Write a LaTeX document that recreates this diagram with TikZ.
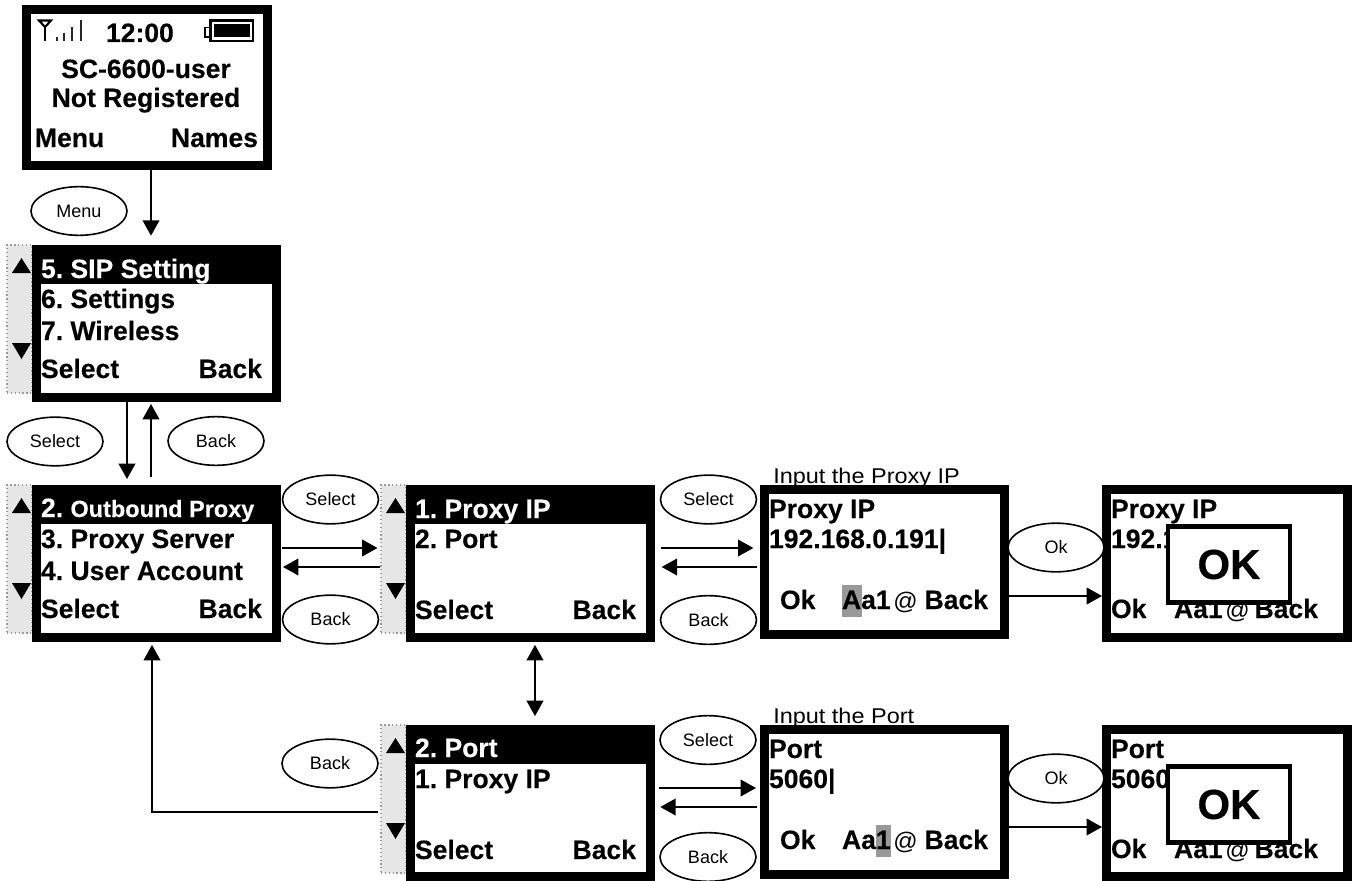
\documentclass[tikz,border=0pt]{standalone}
\usepackage{fontspec}
\setmainfont[BoldFeatures={FakeBold=0.25}]{Liberation Sans}
\newfontfamily\widefont[FakeStretch=1.1]{Liberation Sans}
\usetikzlibrary{arrows.meta,shapes.geometric}
\definecolor{bargray}{HTML}{E6E6E6}
\definecolor{hilite}{HTML}{999999}
\newcommand{\Scr}[5]{\node[scr, minimum width={(#4-#2-9)*0.75pt}, minimum height={(#5-#3-9)*0.75pt}] (#1) at ({(#2+#4)/2},{(#3+#5)/2}) {};}
\newcommand{\Hdr}[3]{\fill[black] (#1,#3) rectangle (#2,{#3+39});}
\newcommand{\ScrollBar}[3]{%
  \node[barbox] (#1) at ({#2+12.5},{#3+74}) {};
  \fill[black] ({#2+5},{#3+28}) -- ({#2+24},{#3+28}) -- ({#2+14.5},{#3+13}) -- cycle;
  \fill[black] ({#2+5},{#3+98}) -- ({#2+24},{#3+98}) -- ({#2+14.5},{#3+114}) -- cycle;}
\newcommand{\Oval}[4]{\node[oval] (#1) at (#2,#3) {#4};}
\frenchspacing
\begin{document}
\begin{tikzpicture}[x=0.75pt,y=-0.75pt,
  scr/.style={draw=black,fill=white,line width=6.75pt,inner sep=0pt},
  popbox/.style={draw=black,fill=white,line width=3.4pt,inner sep=0pt,minimum width=91.5pt,minimum height=57pt,
     font=\fontsize{31.5pt}{36pt}\selectfont\bfseries},
  barbox/.style={draw=gray!80,dotted,fill=bargray,line width=0.9pt,minimum width=18.75pt,minimum height=111pt,inner sep=0pt},
  oval/.style={ellipse,draw=black,fill=white,line width=1.2pt,minimum width=72pt,minimum height=36.5pt,inner sep=0pt,
     font=\fontsize{13.5pt}{16pt}\selectfont},
  txt/.style={anchor=base west,inner sep=0pt,outer sep=0pt,font=\fontsize{19.9pt}{24pt}\selectfont\bfseries},
  inv/.style={txt,text=white},
  note/.style={anchor=base west,inner sep=0pt,font=\fontsize{16pt}{18pt}\selectfont\widefont},
  atsign/.style={anchor=base west,inner sep=0pt,font=\fontsize{18pt}{20pt}\selectfont},
  arr/.style={line width=1.2pt,-{Triangle[length=11.5pt,width=12.5pt]}},
  darr/.style={line width=1.2pt,{Triangle[length=11.5pt,width=12.5pt]}-{Triangle[length=11.5pt,width=12.5pt]}}]
\useasboundingbox (0,0) rectangle (1354,881);
\fill[white] (0,0) rectangle (1354,881);

% screen 1
\Scr{s1}{22}{5}{272}{170}
\draw[line width=1.6pt,black] (39,20.5) -- (45,27) -- (51,20.5) -- cycle;
\draw[line width=1.7pt,black] (45,26) -- (45,41);
\draw[line width=1.2pt,black!85] (57,41) -- (57,37) (64,41) -- (64,33) (72,41) -- (72,27) (81,41) -- (81,20);
\draw[black,line width=1pt] (205,27.5) rectangle (210,37);
\draw[black,line width=1.9pt] (210.5,20.5) rectangle (253,41);
\fill[black] (214,24) rectangle (249.5,37.5);
\node[txt] (t1a) at (106,42) {12:00};
\node[txt,anchor=base] (t1b) at (146,78) {SC-6600-user};
\node[txt,anchor=base] (t1c) at (146,107) {Not Registered};
\node[txt] (t1d) at (35,147) {Menu};
\node[txt,anchor=base east] (t1e) at (258,147) {Names};

% screen 2
\ScrollBar{b2}{7}{245}
\Scr{s2}{32}{245}{281}{402}
\Hdr{41}{272}{245}
\node[inv] (t2a) at (41,278) {5. SIP Setting};
\node[txt] (t2b) at (41,308) {6. Settings};
\node[txt] (t2c) at (41,340) {7. Wireless};
\node[txt] (t2d) at (41,378) {Select};
\node[txt,anchor=base east] (t2e) at (262,378) {Back};

% screen 3
\ScrollBar{b3}{7}{485}
\Scr{s3}{32}{485}{281}{642}
\Hdr{41}{272}{485}
\node[inv] (t3a) at (41,517) {2. {\fontsize{17.6pt}{20pt}\selectfont Outbound Proxy}};
\node[txt] (t3b) at (41,548) {3. Proxy Server};
\node[txt] (t3c) at (41,580) {4. User Account};
\node[txt] (t3d) at (41,618) {Select};
\node[txt,anchor=base east] (t3e) at (262,618) {Back};

% screen 4
\ScrollBar{b4}{381}{485}
\Scr{s4}{406}{485}{655}{642}
\Hdr{415}{646}{485}
\node[inv] (t4a) at (415,518) {1. Proxy IP};
\node[txt] (t4b) at (415,548) {2. Port};
\node[txt] (t4d) at (415,619) {Select};
\node[txt,anchor=base east] (t4e) at (636,619) {Back};

% screen 5
\ScrollBar{b5}{381}{725}
\Scr{s5}{406}{725}{655}{881}
\Hdr{415}{646}{725}
\node[inv] (t5a) at (415,757) {2. Port};
\node[txt] (t5b) at (415,788) {1. Proxy IP};
\node[txt] (t5d) at (415,859) {Select};
\node[txt,anchor=base east] (t5e) at (636,859) {Back};

% input proxy
\node[note] (n1) at (773,483) {Input the Proxy IP};
\Scr{s6}{760}{485}{1009}{639}
\node[txt] (t6a) at (769,518) {Proxy IP};
\node[txt] (t6b) at (769,548) {192.168.0.191|};
\fill[hilite] (842,585) rectangle (862,617);
\node[txt] (t6c) at (780,609) {Ok};
\node[txt] (t6d) at (842,609) {Aa1};
\node[atsign] (t6e) at (893,609) {@};
\node[txt,anchor=base east] (t6f) at (988,609) {Back};

% ok proxy
\Scr{s7}{1102}{485}{1352}{642}
\node[txt] (t7a) at (1111,518) {Proxy IP};
\node[txt] (t7b) at (1111,548) {192.168.0.191};
\node[txt] (t7c) at (1111,618) {Ok};
\node[txt] (t7d) at (1174,618) {Aa1};
\node[atsign] (t7e) at (1225,618) {@};
\node[txt,anchor=base east] (t7f) at (1318,618) {Back};
\node[popbox] (p1) at (1229,564.5) {OK};

% input port
\node[note] (n2) at (773,723) {Input the Port};
\Scr{s8}{760}{725}{1009}{879}
\node[txt] (t8a) at (769,758) {Port};
\node[txt] (t8b) at (769,788) {5060|};
\fill[hilite] (876,825) rectangle (891,857);
\node[txt] (t8c) at (780,849) {Ok};
\node[txt] (t8d) at (842,849) {Aa1};
\node[atsign] (t8e) at (893,849) {@};
\node[txt,anchor=base east] (t8f) at (988,849) {Back};

% ok port
\Scr{s9}{1102}{725}{1352}{881}
\node[txt] (t9a) at (1111,758) {Port};
\node[txt] (t9b) at (1111,788) {5060};
\node[txt] (t9c) at (1111,858) {Ok};
\node[txt] (t9d) at (1174,858) {Aa1};
\node[atsign] (t9e) at (1225,858) {@};
\node[txt,anchor=base east] (t9f) at (1318,858) {Back};
\node[popbox] (p2) at (1229,804.5) {OK};

% ovals
\Oval{o1}{79}{211}{Menu}
\Oval{o2}{55}{441.5}{Select}
\Oval{o3}{216}{441}{Back}
\Oval{o4}{330.5}{499.5}{Select}
\Oval{o5}{330.5}{619.5}{Back}
\Oval{o6}{708.5}{499.5}{Select}
\Oval{o7}{708.5}{620}{Back}
\Oval{o8}{1056}{547.5}{Ok}
\Oval{o9}{330}{763.5}{Back}
\Oval{o10}{708}{740}{Select}
\Oval{o11}{708}{857}{Back}
\Oval{o12}{1056}{778.5}{Ok}

% connectors
\draw[arr,shorten >=7pt] (151,0 |- s1.south) -- (151,0 |- s2.north);
\draw[arr] (127,0 |- s2.south) -- (127,479);
\draw[arr] (151,477) -- ([yshift=-1.5pt]151,0 |- s2.south);
\draw[arr,shorten >=2.2pt,shorten <=0.8pt] (s3.east |- 0,548) -- (b4.west |- 0,548);
\draw[arr] (b4.west |- 0,567) -- ([xshift=1.5pt]s3.east |- 0,567);
\draw[arr,shorten >=5pt,shorten <=4.5pt] (s4.east |- 0,548) -- (s6.west |- 0,548);
\draw[arr,shorten >=5pt,shorten <=2pt] (s6.west |- 0,567) -- (s4.east |- 0,567);
\draw[arr] (s6.east |- 0,596) -- (s7.west |- 0,596);
\draw[darr,shorten <=2.2pt,shorten >=6.7pt] (535,0 |- s4.south) -- (535,0 |- s5.north);
\draw[arr,shorten >=3pt,shorten <=3pt] (s5.east |- 0,788) -- (s8.west |- 0,788);
\draw[arr,shorten >=4pt,shorten <=2pt] (s8.west |- 0,807) -- (s5.east |- 0,807);
\draw[arr] (s8.east |- 0,827) -- (s9.west |- 0,827);
\draw[arr,shorten >=2.2pt,shorten <=1.5pt] (b5.west |- 0,812) -| (152,0 |- s3.south);
\end{tikzpicture}
\end{document}
